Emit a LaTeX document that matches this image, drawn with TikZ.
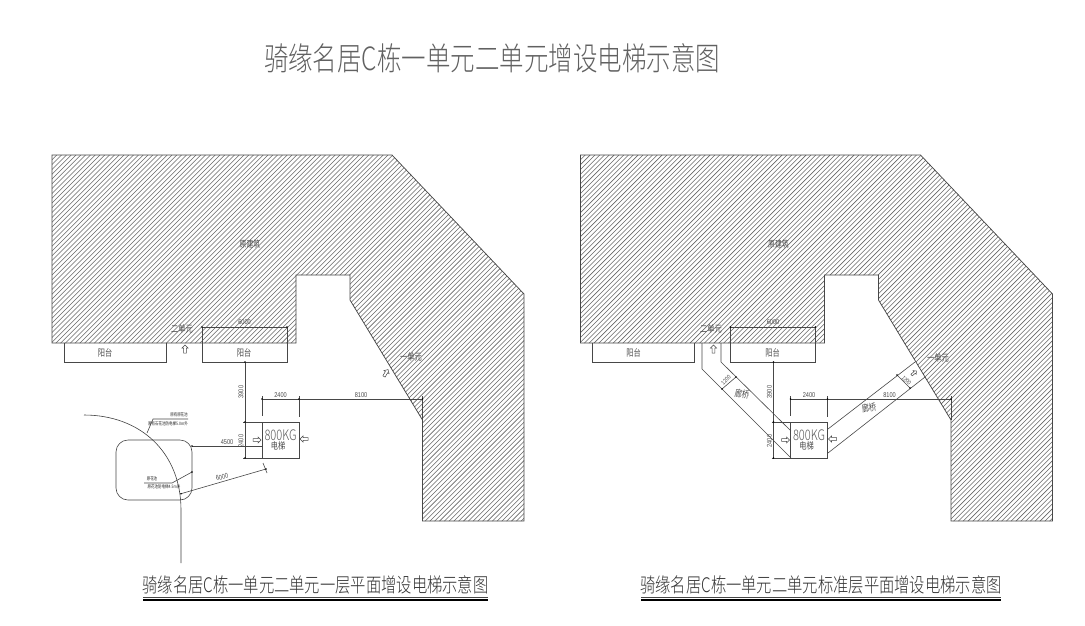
\documentclass[tikz,border=0pt]{standalone}
\usepackage{fontspec}
\setmainfont{Liberation Sans}
\newfontfamily\cjk[FakeStretch=0.76]{Noto Sans CJK SC}
\newfontfamily\cjkt[FakeStretch=0.765,UprightFont={* Light}]{Noto Sans CJK SC}
\newfontfamily\numf[FakeStretch=0.8]{Liberation Sans}
\definecolor{ln}{gray}{0.28}
\definecolor{txt}{gray}{0.3}
\tikzset{
  wall/.style={draw=ln,line width=0.75pt},
  thin/.style={draw=ln,line width=0.6pt},
  hatchline/.style={draw=black!60,line width=0.55pt},
  dimtext/.style={font=\numf\fontsize{7}{7}\selectfont,text=txt,inner sep=0pt},
  lab/.style={font=\cjk\fontsize{9.5}{9.5}\selectfont,text=txt,inner sep=0pt},
  tiny/.style={font=\cjk\fontsize{4.6}{4.6}\selectfont,text=black!85,inner sep=0pt},
  big/.style={font=\cjkt\fontsize{32}{32}\selectfont,text=black!62,inner sep=0pt},
  sub/.style={font=\cjkt\fontsize{20}{20}\selectfont,text=black!80,inner sep=0pt},
  uarrow/.pic={\draw[ln,line width=0.5pt,line join=miter] (0,-4) -- (3,-1) -- (1.3,-1) -- (1.3,4) -- (-1.3,4) -- (-1.3,-1) -- (-3,-1) -- cycle;},
  tick/.pic={\fill[black] (0,0) circle (0.9);}
}
\newcommand{\bldg}[1]{%
  \begin{scope}[xshift=#1pt]
    \begin{scope}
      \clip (52,155) -- (392,155) -- (524,294) -- (524,521) -- (422.5,521) -- (422.5,420) -- (350,300) -- (350,275) -- (296,275) -- (296,343) -- (52,343) -- cycle;
      \foreach \k in {0,1,...,180} {
        \draw[hatchline] ({52+4.8*\k},155) -- ({52+4.8*\k-400},555);
      }
    \end{scope}
    \draw[wall] (52,155) -- (392,155) -- (524,294) -- (524,521) -- (422.5,521) -- (422.5,420) -- (350,300) -- (350,275) -- (296,275) -- (296,343) -- (52,343) -- cycle;
    \draw[thin] (64,343) |- (166,362) -- (166,343);
    \draw[thin] (202,343) |- (287,362) -- (287,343);
    \draw[thin] (202,343) -- (202,327) -- (287,327) -- (287,343);
    \node[dimtext] at (244.5,322) {6000};
    \node[lab,font=\cjk\fontsize{9}{9}\selectfont] at (250,244) {原建筑};
    \node[lab] at (244,353) {阳台};
    \node[lab] at (105,353) {阳台};
    \draw[thin] (245,362) -- (245,458);
    \draw[thin] (243,422) -- (262,422);
    \draw[thin] (243,458) -- (262,458);
    \node[dimtext,rotate=90] at (241,392) {3900};
    \node[dimtext,rotate=90] at (241,441) {2400};
    \draw[thin] (262,422) rectangle (299,458);
    \draw[thin] (262,396) -- (262,416);
    \draw[thin] (299,396) -- (299,417);
    \draw[thin] (262,399) -- (422.5,399);
    \draw[thin] (422.5,396) -- (422.5,420);
    \foreach \p in {(202,327),(287,327),(245,362),(245,422),(245,458),(262,399),(299,399),(422.5,399)} {\pic at \p {tick};}
    \node[dimtext] at (280.5,395) {2400};
    \node[dimtext] at (361,395) {8100};
    \node[font=\cjkt\fontsize{14.5}{14.5}\selectfont,text=black!65,inner sep=0pt] at (280.5,435) {800KG};
    \node[lab] at (278,446) {电梯};
    \pic[rotate=-90] at (257,440) {uarrow};
    \pic[rotate=90] at (304,439) {uarrow};
  \end{scope}}
\begin{document}
\begin{tikzpicture}[x=1pt,y=-1pt]
\useasboundingbox (0,0) rectangle (1085,625);
\fill[white] (0,0) rectangle (1085,625);
\bldg{0}
\bldg{528.5}
% titles
\node[big] (title) at (492,58) {骑缘名居C栋一单元二单元增设电梯示意图};
\node[sub] (subl) at (315.5,585) {骑缘名居C栋一单元二单元一层平面增设电梯示意图};
\node[sub] (subr) at (821,585) {骑缘名居C栋一单元二单元标准层平面增设电梯示意图};
\draw[ln,line width=0.6pt] (143,597) -- (488,597);
\draw[black,line width=2pt] (143,600) -- (488,600);
\draw[ln,line width=0.6pt] (641,597) -- (1001,597);
\draw[black,line width=2pt] (641,600) -- (1001,600);
% left plan specifics
\node[lab] at (182,329) {二单元};
\pic at (185,349) {uarrow};
\node[lab] at (411,357) {一单元};
\pic[rotate=-30] at (386,373) {uarrow};
\draw[thin,black!75] (84,415) .. controls (140,415) and (181,452) .. (181,510) -- (181,563);
\draw[thin,rounded corners=12pt] (116,440) rectangle (192,500);
\draw[thin] (192,446) -- (262,446);
\node[dimtext] at (227,442) {4500};
\draw[thin] (144,483) -- (172,483) -- (192,472);
\draw[thin] (181,493.7) -- (266,469);
\draw[thin] (263,463) -- (267,473);
\foreach \p in {(192,446),(192,472),(181,493.7),(266,469)} {\pic at \p {tick};}
\node[dimtext,rotate=15] at (222,477) {6000};
\draw[thin] (147,433) -- (153,419) -- (188,419);
\node[tiny] at (179,415) {原有原花池};
\node[tiny] at (168,424) {原有石花池防电梯5.0m外};
\node[tiny] at (152,478.5) {原花池};
\node[tiny] at (164,487) {原花池防电梯4.5m外};
% right plan specifics
\node[lab] at (711,329) {二单元};
\pic at (713.5,349) {uarrow};
\node[lab] at (938,358) {一单元};
\draw[thin] (702,343) -- (702,369) -- (791,458);
\draw[thin] (721,343) -- (721,362) -- (791,431);
\draw[thin] (828,429) -- (915,362);
\draw[thin] (828,453) -- (925,377);
\draw[thin] (722,389) -- (736,377);
\draw[thin] (897,375) -- (910,388);
\foreach \p in {(722,389),(736,377),(897,375),(910,388)} {\pic at \p {tick};}
\node[dimtext,rotate=45,font=\numf\fontsize{6}{6}\selectfont] at (726,380) {1200};
\node[dimtext,rotate=-45,font=\numf\fontsize{6}{6}\selectfont] at (906.5,380.5) {1200};
\pic[rotate=-50,scale=0.8] at (914,373) {uarrow};
\node[lab,rotate=-10] at (742,394) {廊桥};
\node[lab,rotate=10] at (869,408) {廊桥};
\end{tikzpicture}
\end{document}
